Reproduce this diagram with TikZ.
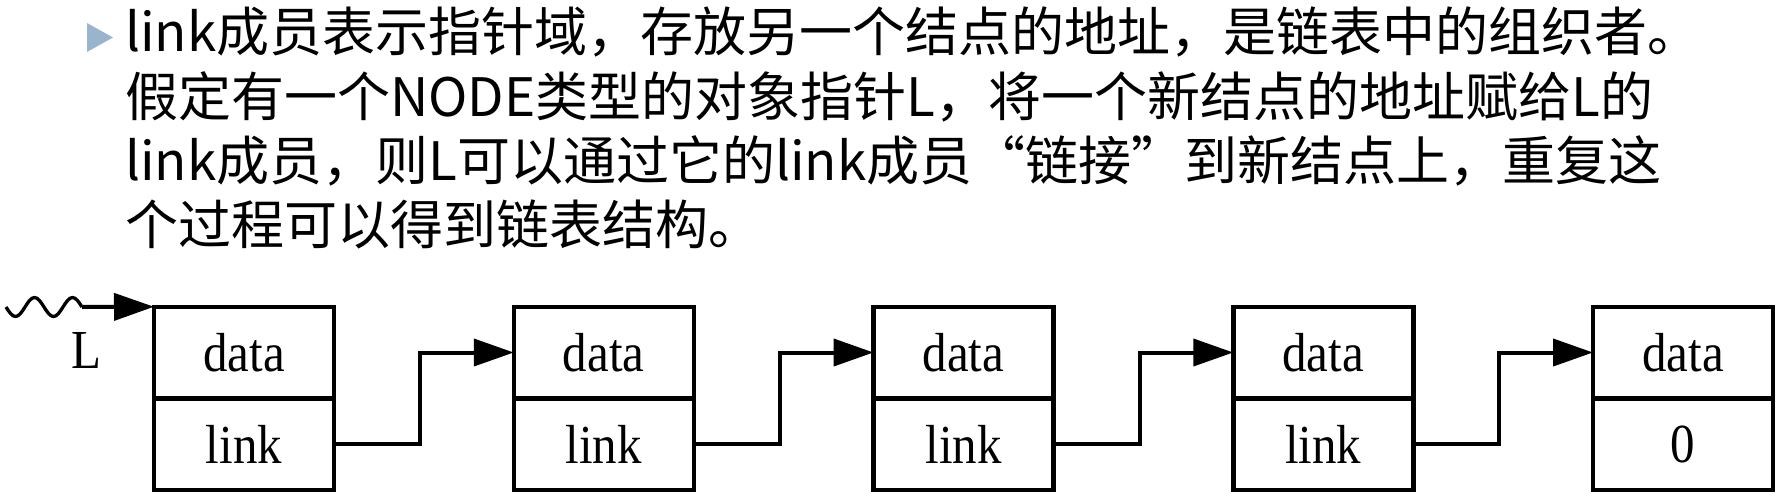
\documentclass[tikz,border=0pt]{standalone}
\usepackage{fontspec}
\newfontfamily\cjkfont{Noto Sans CJK SC}
\newfontfamily\tnrfont[FakeStretch=0.89]{Liberation Serif}
\usetikzlibrary{arrows.meta}
\definecolor{bulletblue}{RGB}{155,180,205}
\tikzset{
  cell/.style={draw, line width=4.5pt, outer sep=0pt, inner sep=0pt,
    minimum width=180pt, minimum height=91.5pt,
    font=\tnrfont\fontsize{55}{60}\selectfont},
  lk/.style={line width=4pt, -{Triangle[length=40pt,width=27pt]}},
  wave/.style={line width=3.3pt},
  para/.style={anchor=base west, inner sep=0pt, font=\cjkfont\fontsize{53}{64}\selectfont},
  lab/.style={anchor=base, inner sep=0pt, font=\tnrfont\fontsize{55}{60}\selectfont}
}
\begin{document}
\begin{tikzpicture}[x=1pt,y=-1pt]
\useasboundingbox (0,0) rectangle (1777,503);
% bullet
\fill[bulletblue] (87,23) -- (113,37.5) -- (87,52) -- cycle;
% paragraph
\node[para] (t1) at (125,52) {link成员表示指针域，存放另一个结点的地址，是链表中的组织者。};
\node[para] (t2) at (125,116) {假定有一个NODE类型的对象指针L，将一个新结点的地址赋给L的};
\node[para] (t3) at (125,180) {link成员，则L可以通过它的link成员“链接”到新结点上，重复这};
\node[para] (t4) at (125,244) {个过程可以得到链表结构。};
% nodes
\node[cell] (d1) at (244,352.5) {data};
\node[cell] (k1) at (244,444) {link};
\node[cell] (d2) at (603.75,352.5) {data};
\node[cell] (k2) at (603.75,444) {link};
\node[cell] (d3) at (963.5,352.5) {data};
\node[cell] (k3) at (963.5,444) {link};
\node[cell] (d4) at (1323.25,352.5) {data};
\node[cell] (k4) at (1323.25,444) {link};
\node[cell] (d5) at (1683,352.5) {data};
\node[cell] (k5) at (1683,444) {0};
% head pointer
\node[lab] (L) at (86.5,368) {L};
\coordinate (w0) at (6,307);
\draw[wave] (w0) sin ++(9.5,9.5) cos ++(9.5,-9.5) sin ++(9.5,-9.5) cos ++(9.5,9.5)
  sin ++(9.5,9.5) cos ++(9.5,-9.5) sin ++(9.5,-9.5) cos ++(9.5,9.5) coordinate (w1);
\draw[lk] (w1) -- (d1.north west);
% links
\draw[lk] (k1.east) -- ++(86,0) |- (d2.west);
\draw[lk] (k2.east) -- ++(86,0) |- (d3.west);
\draw[lk] (k3.east) -- ++(86,0) |- (d4.west);
\draw[lk] (k4.east) -- ++(86,0) |- (d5.west);
\end{tikzpicture}
\end{document}
